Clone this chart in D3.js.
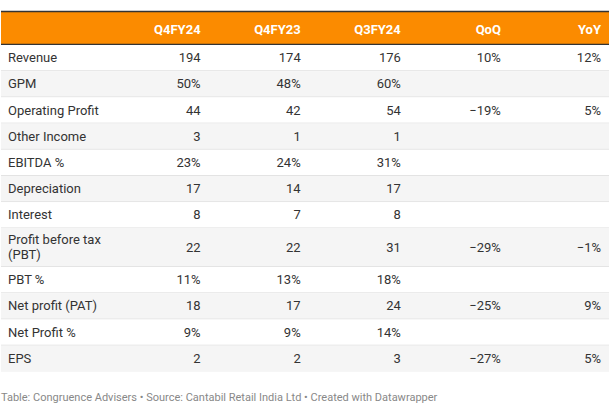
<!DOCTYPE html>
<html><head><meta charset="utf-8">
<script src="https://cdn.jsdelivr.net/npm/d3@7"></script>
<style>html,body{margin:0;padding:0;background:#fff;}svg{display:block;font-family:Roboto,"Noto Sans",sans-serif;}</style>
</head><body>
<svg id="c" width="610" height="405"></svg>
<script>
const columns = ["Q4FY24","Q4FY23","Q3FY24","QoQ","YoY"];
const rowLabels = [["Revenue"],["GPM"],["Operating Profit"],["Other Income"],["EBITDA %"],["Depreciation"],["Interest"],["Profit before tax","(PBT)"],["PBT %"],["Net profit (PAT)"],["Net Profit %"],["EPS"]];
const q4fy24 = ["194","50%","44","3","23%","17","8","22","11%","18","9%","2"];
const q4fy23 = ["174","48%","42","1","24%","14","7","22","13%","17","9%","2"];
const q3fy24 = ["176","60%","54","1","31%","17","8","31","18%","24","14%","3"];
const qoq = ["10%","","\u221219%","","","","","\u221229%","","\u221225%","","\u221227%"];
const yoy = ["12%","","5%","","","","","\u22121%","","9%","","5%"];
const footer = "Table: Congruence Advisers \u2022 Source: Cantabil Retail India Ltd \u2022 Created with Datawrapper";

const series = [q4fy24,q4fy23,q3fy24,qoq,yoy];
const svg = d3.select("#c");
const left = 1, right = 609, headTop = 11, headBot = 45;
const x = d3.scaleBand().domain(columns).range([108.5, right]);
const rowH = 26.2, lineH = 15;
const heights = rowLabels.map(l => rowH + (l.length-1)*12.5);
const tops = []; let acc = headBot;
heights.forEach(h => { tops.push(acc); acc += h; });

// header
svg.append("rect").attr("x",left).attr("y",headTop).attr("width",right-left).attr("height",headBot-headTop).attr("fill","#fb8b00");
svg.append("line").attr("x1",left).attr("x2",right).attr("y1",headTop+0.5).attr("y2",headTop+0.5).attr("stroke","#333").attr("stroke-width",1.5);
svg.append("line").attr("x1",left).attr("x2",right).attr("y1",headBot-0.5).attr("y2",headBot-0.5).attr("stroke","#333").attr("stroke-width",1.5);
svg.selectAll("text.h").data(columns).join("text").attr("class","h")
  .attr("x",d=>x(d)+x.bandwidth()-8).attr("y",(headTop+headBot)/2+1).attr("dy","0.35em")
  .attr("text-anchor","end").attr("font-size",13).attr("font-weight",700).attr("fill","#fff").text(d=>d);

// rows
const g = svg.selectAll("g.row").data(rowLabels).join("g").attr("class","row")
  .attr("transform",(d,i)=>`translate(0,${tops[i]})`);
g.append("rect").attr("x",left).attr("width",right-left).attr("height",(d,i)=>heights[i])
  .attr("fill",(d,i)=>i%2===1?"#f5f5f5":"#fff");
g.filter((d,i)=>i<rowLabels.length-1).append("line").attr("x1",left).attr("x2",right)
  .attr("y1",(d,i)=>heights[i]-0.5).attr("y2",(d,i)=>heights[i]-0.5).attr("stroke","#e3e3e3");
g.each(function(d,i){
  const gg = d3.select(this), h = heights[i];
  const n = d.length, y0 = h/2 - (n-1)*lineH/2;
  d.forEach((t,k)=>gg.append("text").attr("x",8).attr("y",y0+k*lineH-0.5).attr("dy","0.35em")
    .attr("font-size",13).attr("fill","#333").text(t));
  series.forEach((s,c)=>{
    if(s[i]) gg.append("text").attr("x",x(columns[c])+x.bandwidth()-8).attr("y",h/2-0.5).attr("dy","0.35em")
      .attr("text-anchor","end").attr("font-size",13).attr("fill","#333").text(s[i]);
  });
});

svg.append("text").attr("x",1).attr("y",397).attr("dy","0.35em").attr("font-size",11).attr("fill","#888").text(footer);
</script>
</body></html>
